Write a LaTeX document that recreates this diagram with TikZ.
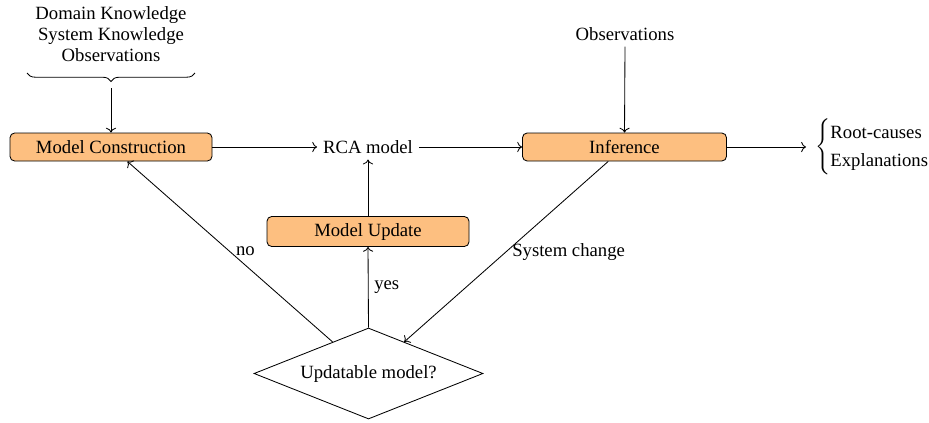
\documentclass[tikz,border=0pt]{standalone}
\usepackage{fontspec}
\setmainfont{Liberation Serif}
\usetikzlibrary{shapes.geometric,decorations.pathreplacing,arrows.meta}
\definecolor{boxorange}{RGB}{253,191,128}
\begin{document}
\begin{tikzpicture}[x=0.535pt,y=-0.535pt,
  box/.style={draw, fill=boxorange, rounded corners=2.5pt, line width=0.45pt, inner sep=0pt},
  conn/.style={->, line width=0.45pt},
  lbl/.style={inner sep=3pt},
  every node/.style={font=\fontsize{10}{11.3}\selectfont}]
\useasboundingbox (0,0) rectangle (929,422);
\node[align=center] (src) at (111,34) {Domain Knowledge\\System Knowledge\\Observations};
\coordinate (bl) at (27,73);
\coordinate (br) at (195,73);
\coordinate (btip) at (111,88);
\draw[decorate, decoration={brace, mirror, amplitude=4.5pt}, line width=0.45pt] (bl) -- (br);
\node[box, minimum width={202*0.535pt}, minimum height={28*0.535pt}] (mc) at (111,147) {Model Construction};
\node[lbl] (rca) at (368,147) {RCA model};
\node[box, minimum width={204*0.535pt}, minimum height={28*0.535pt}] (inf) at (624.5,147) {Inference};
\node[lbl] (obs) at (625,34) {Observations};
\node[box, minimum width={202*0.535pt}, minimum height={30*0.535pt}] (mu) at (368,231.5) {Model Update};
\node[draw, diamond, aspect=2.5, inner sep=0pt, line width=0.45pt, minimum width={229*0.535pt}, minimum height={91*0.535pt}] (dec) at (368.5,373.5) {Updatable model?};
\node[anchor=west, inner sep=0pt] (out) at (815,147) {$\left\{\def\arraystretch{1.3}\begin{tabular}{@{}l@{}}Root-causes\\Explanations\end{tabular}\right.$};
\coordinate (outin) at (806,147);
\draw[conn] (btip) -- (mc.north);
\draw[conn] (mc.east) -- (rca.west);
\draw[conn] (rca.east) -- (inf.west);
\draw[conn] (obs.south) -- (inf.north);
\draw[conn] (inf.east) -- (outin);
\draw[conn] (mu.north) -- (rca.south);
\draw[conn] (dec.north) -- node[right, lbl] {yes} (mu.south);
\draw[conn] (dec) -- node[right, lbl] {no} (mc);
\draw[conn] (inf) -- node[right, lbl] {System change} (dec);
\end{tikzpicture}
\end{document}
